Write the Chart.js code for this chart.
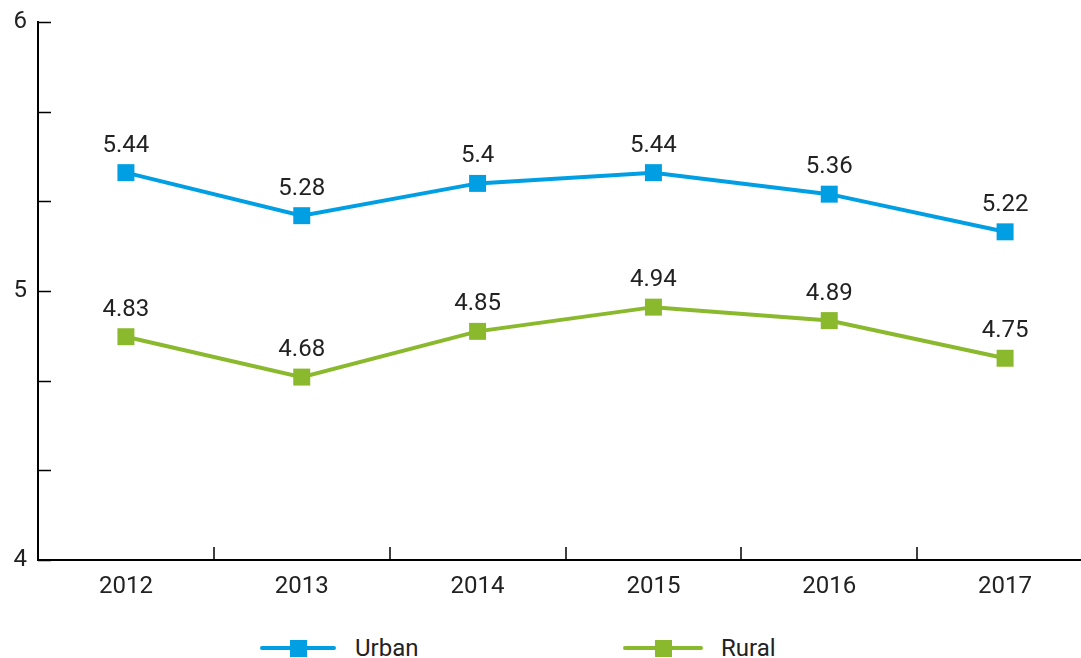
<!DOCTYPE html>
<html>
<head>
<meta charset="utf-8">
<script src="https://cdn.jsdelivr.net/npm/chart.js@4.4.0/dist/chart.umd.min.js"></script>
<style>
  html, body { margin: 0; padding: 0; background: #fff; overflow: hidden; }
  #wrap { position: relative; width: 1105px; height: 615px; }
  .legend { position: absolute; top: 635px; left: 0; width: 1081px; height: 26px; font-family: Roboto, sans-serif; font-size: 24px; color: #222; }
  .item { position: absolute; top: 0; height: 26px; line-height: 26px; }
  .sym { position: absolute; top: 11px; height: 4px; border-radius: 2px; }
  .sym span { position: absolute; left: 50%; top: -6px; width: 17px; height: 17px; margin-left: -8px; }
  .lbl { position: absolute; top: 0; white-space: nowrap; }
</style>
</head>
<body>
<div id="wrap"><canvas id="line" width="1105" height="615"></canvas></div>
<div class="legend">
  <div class="item" style="left:260px">
    <div class="sym" style="left:0;width:76px;background:#009fe3"><span style="background:#009fe3"></span></div>
    <div class="lbl" style="left:95px">Urban</div>
  </div>
  <div class="item" style="left:623px">
    <div class="sym" style="left:0;width:80px;background:#8ab92d"><span style="background:#8ab92d"></span></div>
    <div class="lbl" style="left:98px">Rural</div>
  </div>
</div>
<script>
  // data
  let years = ['2012', '2013', '2014', '2015', '2016', '2017'];
  let urban = [5.44, 5.28, 5.4, 5.44, 5.36, 5.22];
  let rural = [4.83, 4.68, 4.85, 4.94, 4.89, 4.75];
  let yTicks = [4, 4.3333, 4.6667, 5, 5.3333, 5.6667, 6];
  let yLabels = ['4', '', '', '5', '', '', '6'];

  let blue = '#009fe3';
  let green = '#8ab92d';
  let font = 'Roboto, sans-serif';

  // inward tick marks on both axes
  const innerTicks = {
    id: 'innerTicks',
    afterDraw(chart) {
      let c = chart.ctx;
      let x = chart.scales.x;
      let y = chart.scales.y;
      c.save();
      c.strokeStyle = '#000';
      c.lineWidth = 1.5;
      c.beginPath();
      yTicks.forEach(v => {
        let py = Math.round(y.getPixelForValue(v)) + 0.5;
        c.moveTo(y.right, py);
        c.lineTo(y.right + 13, py);
      });
      for (let i = 1; i < years.length; i++) {
        let px = Math.round((x.getPixelForValue(i - 1) + x.getPixelForValue(i)) / 2);
        c.moveTo(px, x.top);
        c.lineTo(px, x.top - 13);
      }
      c.stroke();
      c.restore();
    }
  };

  // value labels above the points
  const valueLabels = {
    id: 'valueLabels',
    afterDatasetsDraw(chart) {
      let c = chart.ctx;
      c.save();
      c.font = '24px ' + font;
      c.fillStyle = '#222';
      c.textAlign = 'center';
      c.textBaseline = 'middle';
      chart.data.datasets.forEach((ds, i) => {
        chart.getDatasetMeta(i).data.forEach((pt, j) => {
          c.fillText(String(ds.data[j]), pt.x, pt.y - 27);
        });
      });
      c.restore();
    }
  };

  let ctx = document.querySelector('#line');

  const myChart = new Chart(ctx, {
    type: 'line',
    data: {
      labels: years,
      datasets: [{
        label: 'Urban',
        data: urban,
        borderColor: blue,
        backgroundColor: blue,
        borderWidth: 4,
        pointStyle: 'rect',
        pointRadius: 12,
        pointBorderWidth: 0,
      }, {
        label: 'Rural',
        data: rural,
        borderColor: green,
        backgroundColor: green,
        borderWidth: 4,
        pointStyle: 'rect',
        pointRadius: 12,
        pointBorderWidth: 0,
      }],
    },
    options: {
      responsive: false,
      animation: false,
      layout: { padding: { top: 22, right: 4, left: 0, bottom: 0 } },
      plugins: {
        legend: { display: false },
        tooltip: { enabled: false }
      },
      scales: {
        x: {
          offset: true,
          grid: { display: false, drawTicks: false },
          border: { display: true, color: '#000', width: 2 },
          ticks: { color: '#222', font: { family: font, size: 24 }, padding: 13 },
          afterFit(s) { s.height = 55; }
        },
        y: {
          min: 4,
          max: 6,
          grid: { display: false, drawTicks: false },
          border: { display: true, color: '#000', width: 2 },
          afterBuildTicks(s) { s.ticks = yTicks.map(v => ({ value: v })); },
          ticks: {
            color: '#222',
            font: { family: font, size: 24, lineHeight: 0.8 },
            padding: 11,
            autoSkip: false,
            callback: (v, i) => yLabels[i]
          },
          afterFit(s) { s.width = 38; }
        }
      }
    },
    plugins: [innerTicks, valueLabels]
  });
</script>
</body>
</html>
